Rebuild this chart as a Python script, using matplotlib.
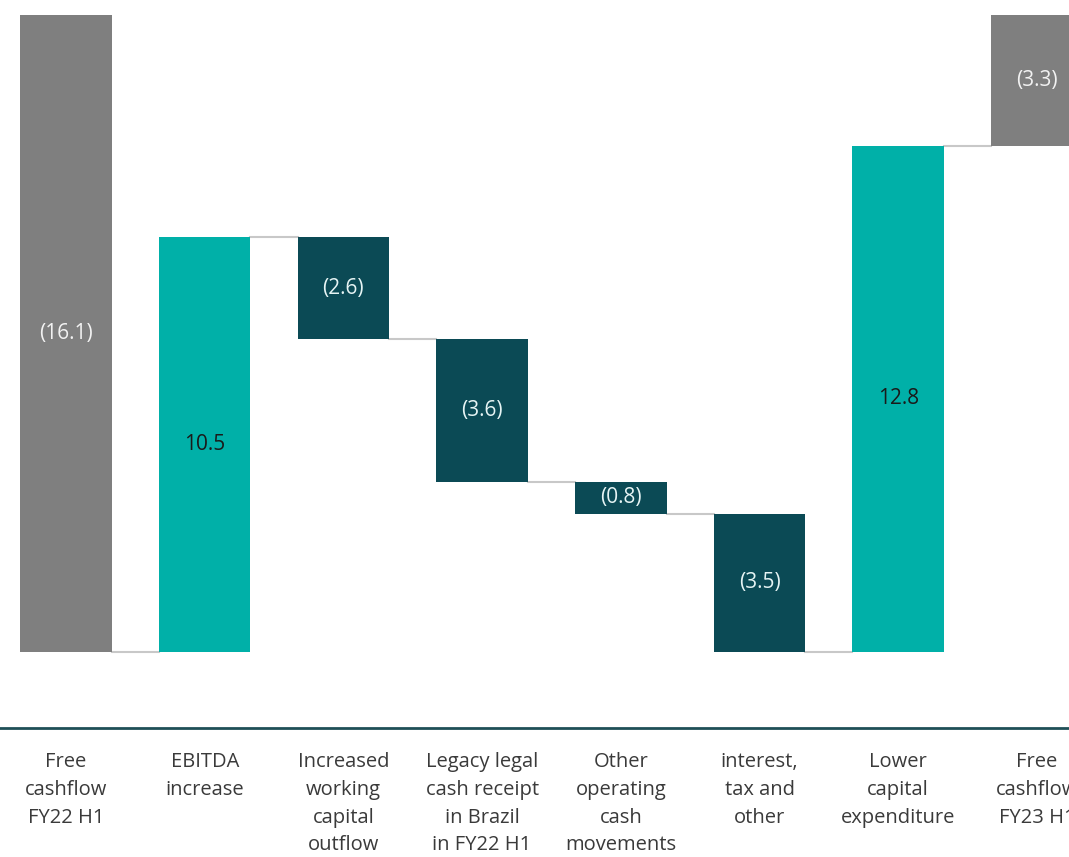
import matplotlib.pyplot as plt

plt.rcParams['font.family'] = ['Open Sans', 'DejaVu Sans']

categories = [
    "Free\ncashflow\nFY22 H1",
    "EBITDA\nincrease",
    "Increased\nworking\ncapital\noutflow",
    "Legacy legal\ncash receipt\nin Brazil\nin FY22 H1",
    "Other\noperating\ncash\nmovements",
    "interest,\ntax and\nother",
    "Lower\ncapital\nexpenditure",
    "Free\ncashflow\nFY23 H1",
]
changes = [-16.1, 10.5, -2.6, -3.6, -0.8, -3.5, 12.8, -3.3]
value_labels = ["(16.1)", "10.5", "(2.6)", "(3.6)", "(0.8)", "(3.5)", "12.8", "(3.3)"]
kinds = ["total", "up", "down", "down", "down", "down", "up", "total"]

colors = {"total": "#7f7f7f", "up": "#00b0a8", "down": "#0b4a55"}
text_colors = {"total": "#f2f2f2", "up": "#1a1a1a", "down": "#e6f4f4"}

# waterfall: first bar hangs from 0 down to -16.1, last bar closes back to 0
bottoms = []
heights = []
level = 0.0
for i, c in enumerate(changes):
    if i == 0:
        bottoms.append(c)
        heights.append(-c)
        level = c
    elif i == len(changes) - 1:
        bottoms.append(level)
        heights.append(-level)
        level = 0.0
    else:
        new_level = level + c
        bottoms.append(min(level, new_level))
        heights.append(abs(c))
        level = new_level

fig = plt.figure(figsize=(10.69, 8.57), dpi=100)
ax = fig.add_axes([0, 1 - 728 / 857, 1, 728 / 857])

x = list(range(len(changes)))
width = 0.66
ax.bar(x, heights, bottom=bottoms, width=width,
       color=[colors[k] for k in kinds], zorder=2)

# connector lines between bars
level = changes[0]
for i in range(len(changes) - 1):
    if i > 0:
        level = level + changes[i]
    ax.plot([i + width / 2, i + 1 - width / 2], [level, level],
            color="#c8c8c8", lw=1.5, zorder=1)

for i in x:
    ax.text(i, bottoms[i] + heights[i] / 2, value_labels[i], ha="center", va="center",
            fontsize=15, color=text_colors[kinds[i]])

ax.set_xlim(-66 / 138.7, (1069 - 66) / 138.7)
ax.set_ylim(-(728 - 15) / 39.57, 15 / 39.57)

ax.set_xticks(x)
ax.set_xticklabels(categories, fontsize=14.5, color="#3a3a3a", linespacing=1.53)
ax.tick_params(axis="x", length=0, pad=17)
ax.set_yticks([])
for s in ["top", "left", "right"]:
    ax.spines[s].set_visible(False)
ax.spines["bottom"].set_color("#1f4f57")
ax.spines["bottom"].set_linewidth(2)

fig.savefig("out.png", dpi=100)
